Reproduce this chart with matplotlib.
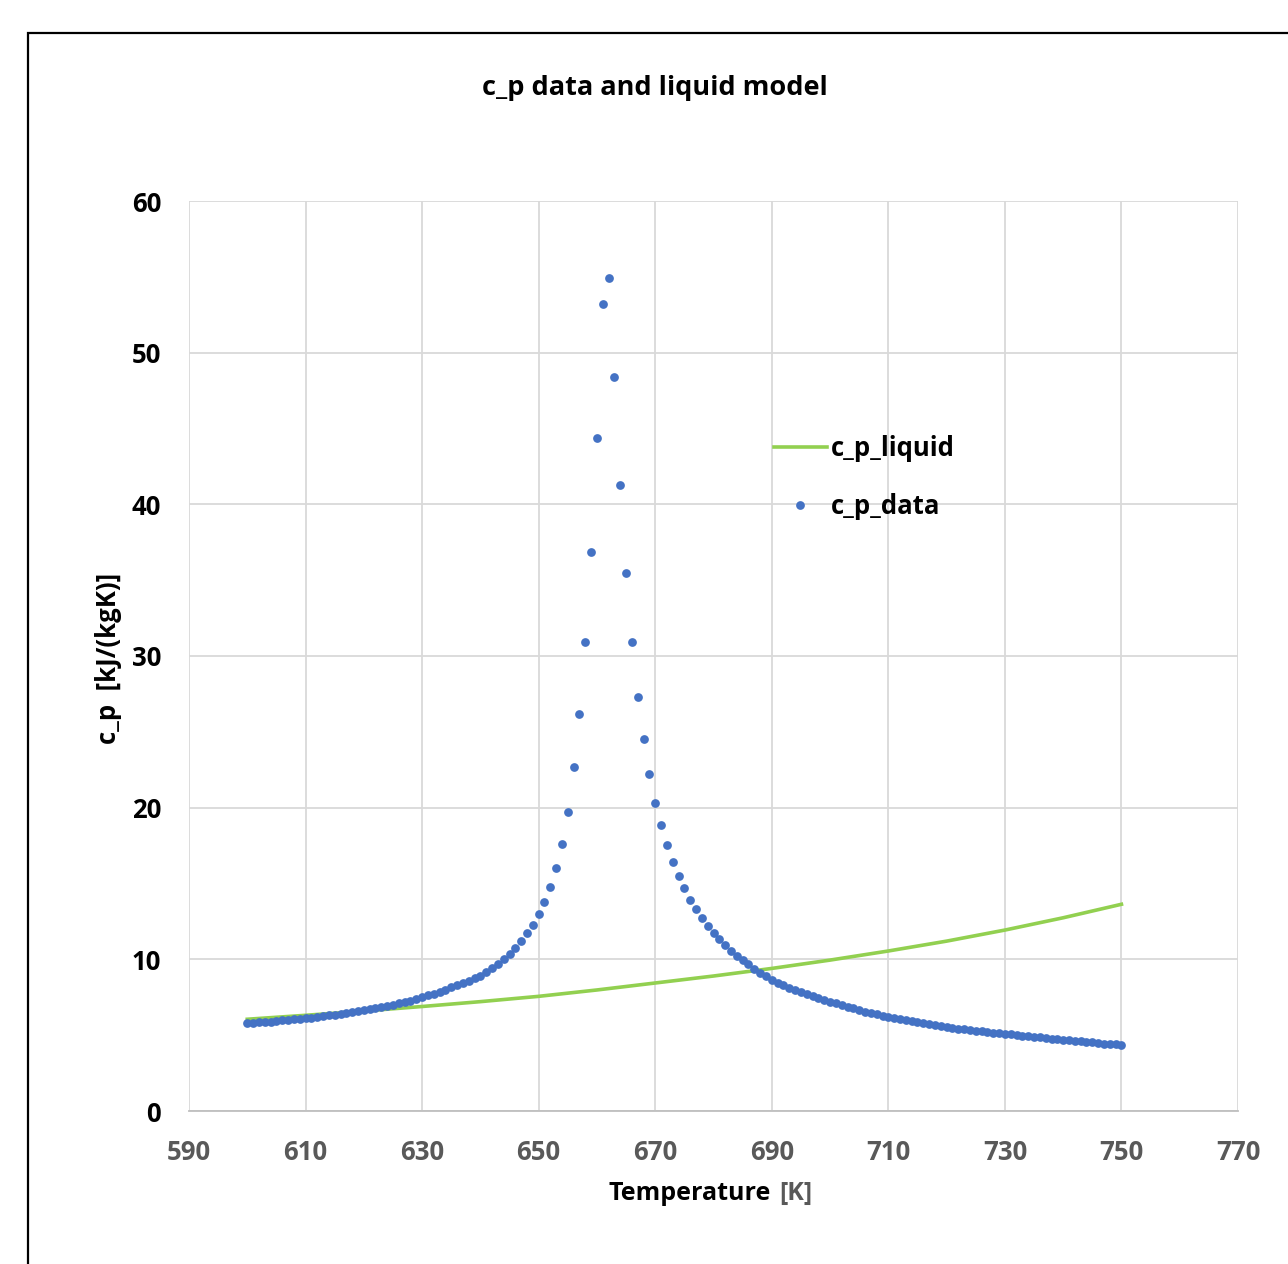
import matplotlib
matplotlib.use("Agg")
import matplotlib.pyplot as plt
from matplotlib.patches import Rectangle
from matplotlib.lines import Line2D

plt.rcParams["font.family"] = ["Open Sans", "DejaVu Sans"]
plt.rcParams["font.weight"] = "bold"

# measured c_p data, 1 K steps from 600 K to 750 K
temp_data = list(range(600, 751))
cp_data = [
    5.78, 5.81, 5.84, 5.87, 5.90, 5.94, 5.97, 6.01, 6.04, 6.08,   # 600-609
    6.12, 6.16, 6.20, 6.25, 6.30, 6.35, 6.40, 6.45, 6.51, 6.57,   # 610-619
    6.63, 6.70, 6.77, 6.84, 6.92, 7.00, 7.09, 7.18, 7.28, 7.39,   # 620-629
    7.50, 7.62, 7.74, 7.87, 8.01, 8.15, 8.29, 8.43, 8.58, 8.74,   # 630-639
    8.92, 9.15, 9.42, 9.72, 10.04, 10.38, 10.76, 11.20, 11.71, 12.29,  # 640-649
    12.97, 13.78, 14.79, 16.00, 17.60, 19.70, 22.70, 26.20, 30.90, 36.85,  # 650-659
    44.40, 53.20, 54.90, 48.40, 41.30, 35.50, 30.90, 27.30, 24.50, 22.20,  # 660-669
    20.30, 18.84, 17.54, 16.44, 15.50, 14.68, 13.94, 13.29, 12.72, 12.21,  # 670-679
    11.75, 11.33, 10.94, 10.57, 10.24, 9.94, 9.66, 9.38, 9.12, 8.87,  # 680-689
    8.64, 8.46, 8.29, 8.13, 7.98, 7.83, 7.69, 7.56, 7.44, 7.32,   # 690-699
    7.20, 7.09, 6.98, 6.87, 6.76, 6.66, 6.56, 6.47, 6.37, 6.28,   # 700-709
    6.19, 6.12, 6.04, 5.97, 5.91, 5.84, 5.78, 5.71, 5.65, 5.60,   # 710-719
    5.54, 5.49, 5.43, 5.38, 5.34, 5.29, 5.25, 5.20, 5.16, 5.13,   # 720-729
    5.09, 5.06, 5.01, 4.97, 4.93, 4.89, 4.85, 4.81, 4.77, 4.73,   # 730-739
    4.69, 4.66, 4.62, 4.59, 4.55, 4.52, 4.49, 4.45, 4.42, 4.39,   # 740-749
    4.36,                                                         # 750
]

# liquid model curve
temp_liquid = [600, 610, 620, 630, 640, 650, 660, 670, 680, 690, 700, 710, 720, 730, 740, 750]
cp_liquid = [6.05, 6.31, 6.59, 6.89, 7.21, 7.56, 7.98, 8.44, 8.90, 9.40, 9.95, 10.55, 11.20, 11.93, 12.74, 13.63]

x_ticks = list(range(590, 771, 20))
y_ticks = list(range(0, 61, 10))

W, H = 1288, 1264
fig = plt.figure(figsize=(W / 100, H / 100), dpi=100)
fig.patch.set_facecolor("white")

ax = fig.add_axes([189 / W, 1 - 1111 / H, (1238 - 189) / W, (1111 - 201) / H])
ax.plot(temp_liquid, cp_liquid, color="#92D050", linewidth=2.6, zorder=3)
ax.plot(temp_data, cp_data, linestyle="none", marker="o", markersize=6.3,
        color="#4472C4", markeredgewidth=0, zorder=4)

ax.set_xlim(590, 770)
ax.set_ylim(0, 60)
ax.set_xticks(x_ticks)
ax.set_yticks(y_ticks)
ax.grid(True, color="#D9D9D9", linewidth=1.3, zorder=0)
for s in ["top", "right", "left"]:
    ax.spines[s].set_visible(False)
ax.spines["bottom"].set_color("#BFBFBF")
ax.spines["bottom"].set_linewidth(1.3)
ax.tick_params(length=0)
ax.tick_params(axis="x", pad=20.5, labelsize=18.5, labelcolor="#595959")
ax.tick_params(axis="y", pad=20, labelsize=18.5, labelcolor="#000000")

handles = [
    Line2D([], [], color="#92D050", linewidth=2.6),
    Line2D([], [], linestyle="none", marker="o", markersize=6.3,
           color="#4472C4", markeredgewidth=0),
]
fig.legend(handles, ["c_p_liquid", "c_p_data"], loc="upper left",
           bbox_to_anchor=(774 / W, 1 - 435 / H), frameon=False,
           fontsize=18.5, handlelength=2.05, handletextpad=0.15,
           labelspacing=1.2, borderpad=0, borderaxespad=0)

fig.text(655 / W, 1 - 88 / H, "c_p data and liquid model", ha="center",
         va="center", fontsize=19.5, color="#000000")
fig.text(108 / W, 1 - 658 / H, "c_p  [kJ/(kgK)]", ha="center", va="center",
         rotation=90, fontsize=18.5, color="#000000")
fig.text(771 / W, 1 - 1193 / H, "Temperature", ha="right", va="center",
         fontsize=18, color="#000000")
fig.text(779 / W, 1 - 1193 / H, "[K]", ha="left", va="center",
         fontsize=18, color="#595959")

# chart-area border (runs off the right and bottom edges)
fig.patches.append(Rectangle((28 / W, -0.1), 1.2, (1 - 33 / H) + 0.1,
                             transform=fig.transFigure, fill=False,
                             edgecolor="black", linewidth=1.6))

fig.savefig("out.png", dpi=100)
